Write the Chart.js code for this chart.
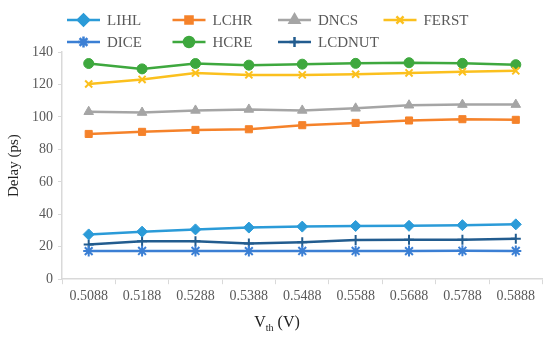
<!DOCTYPE html>
<html lang="en">
<head>
<meta charset="utf-8">
<style>
  html, body { margin: 0; padding: 0; background: #fff; }
  #wrap { position: relative; width: 550px; height: 339px; }
</style>
</head>
<body>
<div id="wrap"><canvas id="delayChart" width="550" height="339"></canvas></div>

<script src="https://cdn.jsdelivr.net/npm/chart.js"></script>
<script>
  // data
  const vth = ['0.5088', '0.5188', '0.5288', '0.5388', '0.5488', '0.5588', '0.5688', '0.5788', '0.5888'];
  const lihl   = [27.6, 29.3, 30.7, 31.8, 32.4, 32.8, 32.9, 33.3, 33.8];
  const lchr   = [89.5, 90.8, 92.0, 92.4, 94.9, 96.3, 97.8, 98.6, 98.2];
  const dncs   = [103.2, 102.7, 104.0, 104.6, 104.0, 105.3, 107.2, 107.6, 107.6];
  const ferst  = [120.3, 123.1, 127.0, 125.9, 125.9, 126.3, 127.1, 127.9, 128.4];
  const dice   = [17.3, 17.4, 17.4, 17.3, 17.4, 17.4, 17.3, 17.5, 17.4];
  const hcre   = [132.9, 129.6, 132.9, 131.9, 132.5, 133.0, 133.4, 133.0, 132.2];
  const lcdnut = [21.4, 23.4, 23.4, 22.0, 22.8, 24.1, 24.3, 24.3, 25.0];
  const yTicks = [0, 20, 40, 60, 80, 100, 120, 140];

  const serif = "'Liberation Serif', 'DejaVu Serif', serif";

  function series(label, data, color, style, radius) {
    return {
      label: label,
      data: data,
      borderColor: color,
      backgroundColor: color,
      borderWidth: 2.5,
      pointStyle: style,
      pointRadius: radius,
      pointBorderWidth: style === 'crossRot' || style === 'star' || style === 'cross' ? 2 : 1,
      pointBorderColor: color,
      pointBackgroundColor: color,
      tension: 0
    };
  }

  // legend laid out as a 4 column grid like the original
  const gridLegend = {
    id: 'gridLegend',
    afterDraw(chart) {
      const ctx = chart.ctx;
      ctx.save();
      chart.data.datasets.forEach((ds, i) => {
        const col = i % 4, row = Math.floor(i / 4);
        const x0 = 67 + col * 105.5;
        const y = 20 + row * 22;
        ctx.strokeStyle = ds.borderColor;
        ctx.lineWidth = 2.5;
        ctx.beginPath();
        ctx.moveTo(x0, y);
        ctx.lineTo(x0 + 33, y);
        ctx.stroke();
        ctx.fillStyle = ds.borderColor;
        Chart.helpers.drawPoint(ctx, {
          pointStyle: ds.pointStyle,
          radius: ds.pointRadius,
          borderWidth: ds.pointBorderWidth,
          rotation: 0
        }, x0 + 16.5, y);
        ctx.fillStyle = '#595959';
        ctx.font = '15px ' + serif;
        ctx.textBaseline = 'middle';
        ctx.textAlign = 'left';
        ctx.fillText(ds.label, x0 + 40, y + 1);
      });

      // x axis title with subscript
      const cx = 277;
      const ty = 323;
      ctx.fillStyle = '#222';
      ctx.textBaseline = 'middle';
      ctx.font = '16px ' + serif;
      const wV = ctx.measureText('V').width;
      const rest = ' (V)';
      const wRest = ctx.measureText(rest).width;
      ctx.font = '10px ' + serif;
      const wSub = ctx.measureText('th').width;
      let x = cx - (wV + wSub + wRest) / 2;
      ctx.font = '16px ' + serif;
      ctx.fillText('V', x, ty);
      x += wV;
      ctx.font = '10px ' + serif;
      ctx.fillText('th', x, ty + 5);
      x += wSub;
      ctx.font = '16px ' + serif;
      ctx.fillText(rest, x, ty);
      ctx.restore();
    }
  };

  new Chart(document.getElementById('delayChart'), {
    type: 'line',
    data: {
      labels: vth,
      datasets: [
        series('LIHL', lihl, '#2b9bd8', 'rectRot', 5.5),
        series('LCHR', lchr, '#f5822a', 'rect', 5),
        series('DNCS', dncs, '#a5a5a5', 'triangle', 5.5),
        series('FERST', ferst, '#fbc01e', 'crossRot', 5),
        series('DICE', dice, '#3b7fd4', 'star', 5.5),
        series('HCRE', hcre, '#3ea83e', 'circle', 5),
        series('LCDNUT', lcdnut, '#225c8f', 'cross', 5)
      ]
    },
    options: {
      responsive: false,
      animation: false,
      layout: { padding: { top: 52, right: 7, bottom: 30, left: 1 } },
      plugins: {
        legend: { display: false },
        tooltip: { enabled: false }
      },
      scales: {
        x: {
          offset: true,
          grid: { display: true, drawOnChartArea: false, color: '#d9d9d9', tickLength: 5, offset: true },
          border: { color: '#d9d9d9', width: 1.5 },
          ticks: { color: '#595959', font: { family: serif, size: 14 }, padding: 4, maxRotation: 0 }
        },
        y: {
          min: 0,
          max: 140,
          afterBuildTicks(scale) { scale.ticks = yTicks.map(v => ({ value: v })); },
          grid: { display: true, drawOnChartArea: false, color: '#d9d9d9', tickLength: 4 },
          border: { color: '#d9d9d9', width: 1.5 },
          ticks: { color: '#595959', font: { family: serif, size: 14 }, padding: 5 },
          title: { display: true, text: 'Delay (ps)', color: '#222', font: { family: serif, size: 15 }, padding: 4 }
        }
      }
    },
    plugins: [gridLegend]
  });
</script>
</body>
</html>
